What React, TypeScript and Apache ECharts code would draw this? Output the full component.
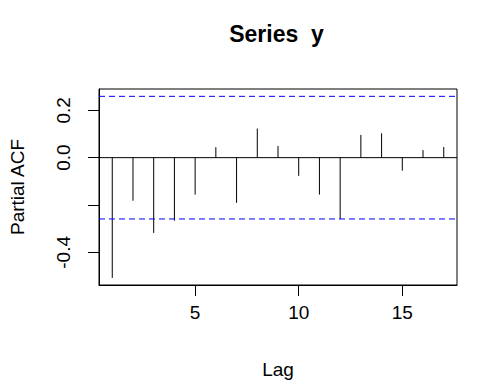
import React, { useEffect, useRef } from "react";
import * as echarts from "echarts";

const lags = [1, 2, 3, 4, 5, 6, 7, 8, 9, 10, 11, 12, 13, 14, 15, 16, 17];
const pacfValues = [
  -0.508, -0.182, -0.318, -0.266, -0.156, 0.044, -0.191, 0.123, 0.049,
  -0.077, -0.156, -0.259, 0.096, 0.103, -0.055, 0.032, 0.045,
];
const ciBound = 0.259;
const xTickValues = [5, 10, 15];
const yTickValues = [-0.4, -0.2, 0, 0.2];
const yLabelValues = [-0.4, 0, 0.2];
const titleText = "Series  y";
const xName = "Lag";
const yName = "Partial ACF";

const X_MIN = 0.36;
const X_MAX = 17.64;
const FONT = "'Liberation Sans', Arial, sans-serif";

export default function App() {
  const ref = useRef<HTMLDivElement>(null);
  useEffect(() => {
    if (!ref.current) return;
    const chart = echarts.init(ref.current, undefined, { renderer: "svg" });
    const data = lags.map((l, i) => [l, pacfValues[i]]);
    const hline = (v: number) => [
      [X_MIN, v],
      [X_MAX, v],
    ];
    chart.setOption({
      animation: false,
      backgroundColor: "#fff",
      textStyle: { fontFamily: FONT, color: "#000" },
      graphic: [
        {
          type: "text",
          x: 276.5,
          y: 34,
          style: {
            text: titleText,
            textAlign: "center",
            textVerticalAlign: "middle",
            fontFamily: FONT,
            fontSize: 23,
            fontWeight: "bold",
            fill: "#000",
          },
        },
      ],
      grid: {
        left: 97,
        top: 89,
        right: 39,
        bottom: 107,
        show: true,
        borderColor: "#000",
        borderWidth: 1,
        backgroundColor: "transparent",
      },
      xAxis: {
        type: "value",
        min: X_MIN,
        max: X_MAX,
        name: xName,
        nameLocation: "middle",
        nameGap: 75,
        nameTextStyle: { fontFamily: FONT, fontSize: 19, color: "#000" },
        axisLine: { show: true, onZero: false, lineStyle: { color: "#000", width: 1 } },
        axisTick: { show: true, length: 11, customValues: xTickValues, lineStyle: { color: "#000" } },
        axisLabel: {
          customValues: xTickValues,
          margin: 18,
          fontSize: 19,
          fontFamily: FONT,
          color: "#000",
        },
        splitLine: { show: false },
      },
      yAxis: {
        type: "value",
        min: -0.538,
        max: 0.29,
        name: yName,
        nameLocation: "middle",
        nameGap: 72,
        nameRotate: 90,
        nameTextStyle: { fontFamily: FONT, fontSize: 19, color: "#000" },
        axisLine: { show: true, onZero: false, lineStyle: { color: "#000", width: 1 } },
        axisTick: { show: true, length: 11, customValues: yTickValues, lineStyle: { color: "#000" } },
        axisLabel: {
          customValues: yLabelValues,
          rotate: 90,
          margin: 26,
          fontSize: 19,
          fontFamily: FONT,
          color: "#000",
          formatter: (v: number) => v.toFixed(1),
        },
        splitLine: { show: false },
      },
      series: [
        {
          type: "line",
          data: hline(0),
          symbol: "none",
          silent: true,
          lineStyle: { color: "#000", width: 1, type: "solid" },
        },
        {
          type: "line",
          data: hline(ciBound),
          symbol: "none",
          silent: true,
          lineStyle: { color: "#0000ff", width: 1, type: [6, 4] },
        },
        {
          type: "line",
          data: hline(-ciBound),
          symbol: "none",
          silent: true,
          lineStyle: { color: "#0000ff", width: 1, type: [6, 4] },
        },
        {
          type: "custom",
          data,
          clip: true,
          renderItem: (params: any, api: any) => {
            const x = api.value(0);
            const y = api.value(1);
            const p0 = api.coord([x, 0]);
            const p1 = api.coord([x, y]);
            return {
              type: "line",
              shape: { x1: p0[0], y1: p0[1], x2: p1[0], y2: p1[1] },
              style: { stroke: "#000", lineWidth: 1 },
            };
          },
        },
      ],
    });
    return () => chart.dispose();
  }, []);
  return <div ref={ref} style={{ width: 496, height: 392, position: "absolute", left: 0, top: 0 }} />;
}
